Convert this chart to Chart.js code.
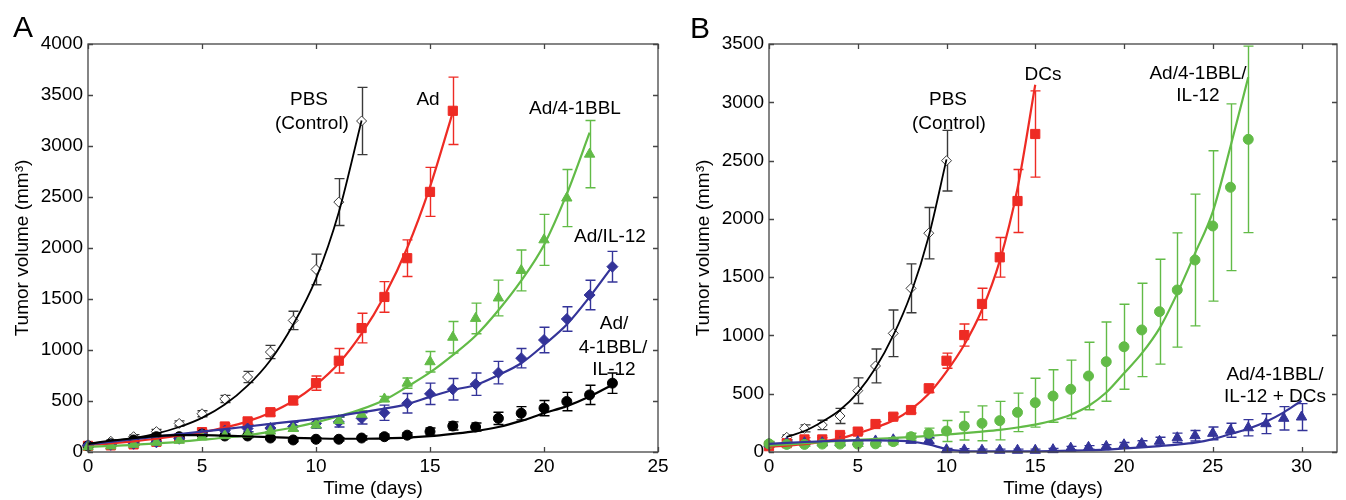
<!DOCTYPE html>
<html><head><meta charset="utf-8">
<script src="https://cdn.jsdelivr.net/npm/chart.js@4.4.1/dist/chart.umd.min.js"></script>
<style>
html,body{margin:0;padding:0;background:#fff;}
#wrap{position:relative;width:1346px;height:500px;overflow:hidden;font-family:"Liberation Sans",Arial,sans-serif;color:#000;}
canvas{position:absolute;top:0;}
.lbl{position:absolute;transform:translate(-50%,-50%);font-size:19px;line-height:19px;white-space:nowrap;}
.pl{position:absolute;transform:translate(-50%,-50%);font-size:30px;line-height:30px;}
</style></head><body>
<div id="wrap">
<canvas id="cA" width="673" height="500" style="left:0"></canvas>
<canvas id="cB" width="673" height="500" style="left:673px"></canvas>
<div class="pl" style="left:23px;top:27px">A</div>
<div class="pl" style="left:700px;top:28px">B</div>
<div class="lbl" style="left:309px;top:98px">PBS</div>
<div class="lbl" style="left:312px;top:122px">(Control)</div>
<div class="lbl" style="left:428px;top:98px">Ad</div>
<div class="lbl" style="left:575px;top:107px">Ad/4-1BBL</div>
<div class="lbl" style="left:610px;top:235px">Ad/IL-12</div>
<div class="lbl" style="left:614px;top:322px">Ad/</div>
<div class="lbl" style="left:613px;top:346px">4-1BBL/</div>
<div class="lbl" style="left:614px;top:368px">IL-12</div>
<div class="lbl" style="left:948px;top:98px">PBS</div>
<div class="lbl" style="left:949px;top:122px">(Control)</div>
<div class="lbl" style="left:1043px;top:73px">DCs</div>
<div class="lbl" style="left:1198px;top:72px">Ad/4-1BBL/</div>
<div class="lbl" style="left:1198px;top:94px">IL-12</div>
<div class="lbl" style="left:1275px;top:373px">Ad/4-1BBL/</div>
<div class="lbl" style="left:1275px;top:395px">IL-12 + DCs</div>
</div>
<script>
// ---------- Panel A data ----------
const xTicksA = [0, 5, 10, 15, 20, 25];
const yTicksA = [0, 500, 1000, 1500, 2000, 2500, 3000, 3500, 4000];

const daysA_PBS = [0,1,2,3,4,5,6,7,8,9,10,11,12];
const pbsA      = [60,105,150,200,280,375,520,735,980,1290,1790,2450,3245];
const pbsAErr   = [15,15,20,20,25,30,35,55,65,90,150,230,330];
const pbsAFit   = [80,105,135,180,245,335,465,650,900,1250,1700,2350,3250];

const daysA_Ad = [0,1,2,3,4,5,6,7,8,9,10,11,12,13,14,15,16];
const adA      = [60,65,75,100,135,195,250,300,390,505,675,895,1215,1520,1900,2550,3345];
const adAErr   = [10,10,12,15,18,20,25,30,35,40,70,120,145,150,180,240,330];
const adAFit   = [70,85,105,130,160,195,240,300,385,500,660,870,1160,1530,2000,2600,3330];

const daysA_BBL = [0,1,2,3,4,5,6,7,8,9,10,11,12,13,14,15,16,17,18,19,20,21,22];
const bblA      = [50,60,75,95,115,150,160,175,205,230,265,310,370,520,675,885,1125,1310,1510,1780,2080,2490,2920];
const bblAErr   = [10,10,10,12,12,15,15,20,20,25,30,30,35,25,50,100,155,150,175,200,250,280,330];
const bblAFit   = [50,60,70,85,100,120,140,165,200,240,290,350,420,510,640,780,950,1140,1390,1680,2030,2530,3130];

const daysA_IL = [0,1,2,3,4,5,6,7,8,9,10,11,12,13,14,15,16,17,18,19,20,21,22,23];
const ilA      = [65,70,80,95,130,175,210,230,235,250,280,295,330,385,478,570,615,665,778,920,1098,1304,1539,1817];
const ilAErr   = [10,10,10,12,15,20,25,30,35,40,45,50,55,75,95,105,105,110,110,95,125,120,145,150];
const ilAFit   = [75,100,125,150,175,200,225,250,275,300,325,355,390,425,470,540,608,657,755,870,1050,1250,1520,1820];

const daysA_Combo = [0,1,2,3,4,5,6,7,8,9,10,11,12,13,14,15,16,17,18,19,20,21,22,23];
const comboA      = [60,80,118,150,150,175,157,157,137,118,125,125,137,150,165,200,255,245,330,380,430,495,560,675];
const comboAErr   = [10,10,12,12,15,15,15,15,15,15,15,15,20,25,25,35,40,40,60,65,75,90,95,100];
const comboAFit   = [80,110,135,155,165,165,160,152,145,138,133,130,130,133,140,155,178,205,245,305,380,450,545,660];

// ---------- Panel B data ----------
const xTicksB = [0, 5, 10, 15, 20, 25, 30];
const yTicksB = [0, 500, 1000, 1500, 2000, 2500, 3000, 3500];

const daysB_PBS = [1,2,3,4,5,6,7,8,9,10];
const pbsB      = [126,203,232,309,526,738,1018,1404,1877,2499];
const pbsBErr   = [20,30,40,65,110,145,200,210,220,260];
const pbsBFit   = [130,180,260,360,510,720,1000,1360,1850,2510];

const daysB_DC = [0,1,2,3,4,5,6,7,8,9,10,11,12,13,14,15];
const dcB      = [50,75,108,108,146,175,240,303,360,546,783,1003,1270,1670,2153,2728];
const dcBErr   = [10,10,15,15,15,20,20,25,25,35,65,95,135,170,270,370];
const dcBFit   = [45,55,68,89,117,160,210,270,365,500,690,920,1220,1640,2260,3150];

const daysB_BBL = [0,1,2,3,4,5,6,7,8,9,10,11,12,13,14,15,16,17,18,19,20,21,22,23,24,25,26,27];
const bblB      = [70,65,65,68,68,68,70,89,131,160,180,223,246,269,340,423,480,538,652,775,903,1047,1204,1390,1647,1939,2271,2682];
const bblBErr   = [20,15,15,15,15,20,20,25,30,45,90,120,150,165,165,210,225,250,290,340,365,400,450,490,565,645,715,800];
const bblBFit   = [55,65,75,85,95,105,112,120,128,138,150,162,175,190,210,235,270,320,395,510,675,846,1061,1361,1704,2060,2620,3214];

const daysB_Combo = [0,1,2,3,4,5,6,7,8,9,10,11,12,13,14,15,16,17,18,19,20,21,22,23,24,25,26,27,28,29,30];
const comboB      = [68,80,80,80,80,88,95,105,100,100,20,18,15,15,15,15,20,33,40,48,62,72,92,122,140,160,186,208,243,289,300];
const comboBErr   = [15,15,15,15,15,15,15,15,20,25,10,10,10,10,10,10,10,15,15,15,20,25,35,40,45,55,60,70,85,100,115];
const comboBFit   = [70,78,86,92,97,100,100,98,90,65,25,8,5,5,5,6,8,11,15,20,30,40,51,63,80,110,154,200,260,340,440];

// ---------- styling ----------
const F = "'Liberation Sans', Arial, sans-serif";
const C_PBS = '#3a3a3a', C_RED = '#ee2b24', C_GREEN = '#62bb47', C_BLUE = '#343499', C_BLACK = '#000000';

function xy(days, vals){ return days.map((d,i)=>({x:d, y:vals[i]})); }
function fit(days, vals, color, w){
  return {data: xy(days, vals), showLine:true, borderColor:color, borderWidth:w||2.2, pointRadius:0,
          cubicInterpolationMode:'monotone', fill:false};
}
function pts(days, vals, errs, color, style, r, fillColor){
  return {data: xy(days, vals), errors: errs, errColor: color, showLine:false, pointStyle: style,
          pointRadius:r, backgroundColor: fillColor || color, borderColor: color, borderWidth:1, clip:false};
}

const errorBars = {
  id:'errorBars',
  beforeDatasetsDraw(chart){
    const ctx = chart.ctx, xs = chart.scales.x, ys = chart.scales.y;
    chart.data.datasets.forEach(ds=>{
      if(!ds.errors) return;
      ctx.save();
      ctx.strokeStyle = ds.errColor; ctx.lineWidth = 1.4;
      ds.data.forEach((p,j)=>{
        const e = ds.errors[j];
        const x = Math.round(xs.getPixelForValue(p.x)) + 0.5;
        const y1 = ys.getPixelForValue(p.y + e), y2 = ys.getPixelForValue(p.y - e);
        ctx.beginPath();
        ctx.moveTo(x, y1); ctx.lineTo(x, y2);
        ctx.moveTo(x-5, y1); ctx.lineTo(x+5, y1);
        ctx.moveTo(x-5, y2); ctx.lineTo(x+5, y2);
        ctx.stroke();
      });
      ctx.restore();
    });
  }
};
const frame = {
  id:'frame',
  afterDraw(chart){
    const {ctx, chartArea:a, scales:{x, y}} = chart;
    ctx.save();
    ctx.strokeStyle = '#444'; ctx.lineWidth = 1.3;
    ctx.strokeRect(a.left, a.top, a.right - a.left, a.bottom - a.top);
    ctx.beginPath();
    x.ticks.forEach(t=>{
      const px = Math.round(x.getPixelForValue(t.value)) + 0.5;
      ctx.moveTo(px, a.bottom); ctx.lineTo(px, a.bottom - 5);
      ctx.moveTo(px, a.top); ctx.lineTo(px, a.top + 5);
    });
    y.ticks.forEach(t=>{
      const py = Math.round(y.getPixelForValue(t.value)) + 0.5;
      ctx.moveTo(a.left, py); ctx.lineTo(a.left + 5, py);
      ctx.moveTo(a.right, py); ctx.lineTo(a.right - 5, py);
    });
    ctx.stroke();
    ctx.restore();
  }
};

function makeChart(id, datasets, xMax, yMax, xTicks, yTicks, yWidth, padRight, yTitlePad){
  return new Chart(document.getElementById(id), {
    type:'scatter',
    data:{datasets},
    options:{
      responsive:false, animation:false, devicePixelRatio:1,
      layout:{padding:{left:0, top:44, right:padRight, bottom:0}},
      plugins:{legend:{display:false}, tooltip:{enabled:false}},
      scales:{
        x:{type:'linear', min:0, max:xMax,
           afterBuildTicks:s=>{ s.ticks = xTicks.map(v=>({value:v})); },
           afterFit:s=>{ s.height = 48; },
           grid:{display:false, drawTicks:false}, border:{display:false},
           ticks:{color:'#000', font:{size:19, family:F}, padding:3, maxRotation:0, autoSkip:false, callback:v=>String(v)},
           title:{display:true, text:'Time (days)', color:'#000', font:{size:19, family:F}, padding:{top:0, bottom:0}}},
        y:{type:'linear', min:0, max:yMax,
           afterBuildTicks:s=>{ s.ticks = yTicks.map(v=>({value:v})); },
           afterFit:s=>{ s.width = yWidth; },
           grid:{display:false, drawTicks:false}, border:{display:false},
           ticks:{color:'#000', font:{size:19, family:F}, padding:5, autoSkip:false, callback:v=>String(v)},
           title:{display:true, text:'Tumor volume (mm³)', color:'#000', font:{size:19, family:F}, padding:{top:yTitlePad, bottom:0}}}
      }
    },
    plugins:[errorBars, frame]
  });
}

makeChart('cA', [
  fit(daysA_Combo, comboAFit, C_BLACK),
  fit(daysA_IL, ilAFit, C_BLUE),
  fit(daysA_BBL, bblAFit, C_GREEN),
  fit(daysA_Ad, adAFit, C_RED),
  fit(daysA_PBS, pbsAFit, C_BLACK, 1.8),
  pts(daysA_BBL, bblA, bblAErr, C_GREEN, 'triangle', 6),
  pts(daysA_IL, ilA, ilAErr, C_BLUE, 'rectRot', 5.5),
  pts(daysA_Combo, comboA, comboAErr, C_BLACK, 'circle', 5),
  pts(daysA_Ad, adA, adAErr, C_RED, 'rect', 6.5),
  pts(daysA_PBS, pbsA, pbsAErr, C_PBS, 'rectRot', 5, '#ffffff')
], 25, 4000, xTicksA, yTicksA, 88, 15, 11);

makeChart('cB', [
  fit(daysB_Combo, comboBFit, C_BLUE),
  fit(daysB_BBL, bblBFit, C_GREEN),
  fit(daysB_DC, dcBFit, C_RED),
  fit(daysB_PBS, pbsBFit, C_BLACK, 1.8),
  pts(daysB_BBL, bblB, bblBErr, C_GREEN, 'circle', 5),
  pts(daysB_Combo, comboB, comboBErr, C_BLUE, 'triangle', 6),
  pts(daysB_DC, dcB, dcBErr, C_RED, 'rect', 6.5),
  pts(daysB_PBS, pbsB, pbsBErr, C_PBS, 'rectRot', 5, '#ffffff')
], 32, 3500, xTicksB, yTicksB, 96, 9, 19);
</script>
</body></html>
